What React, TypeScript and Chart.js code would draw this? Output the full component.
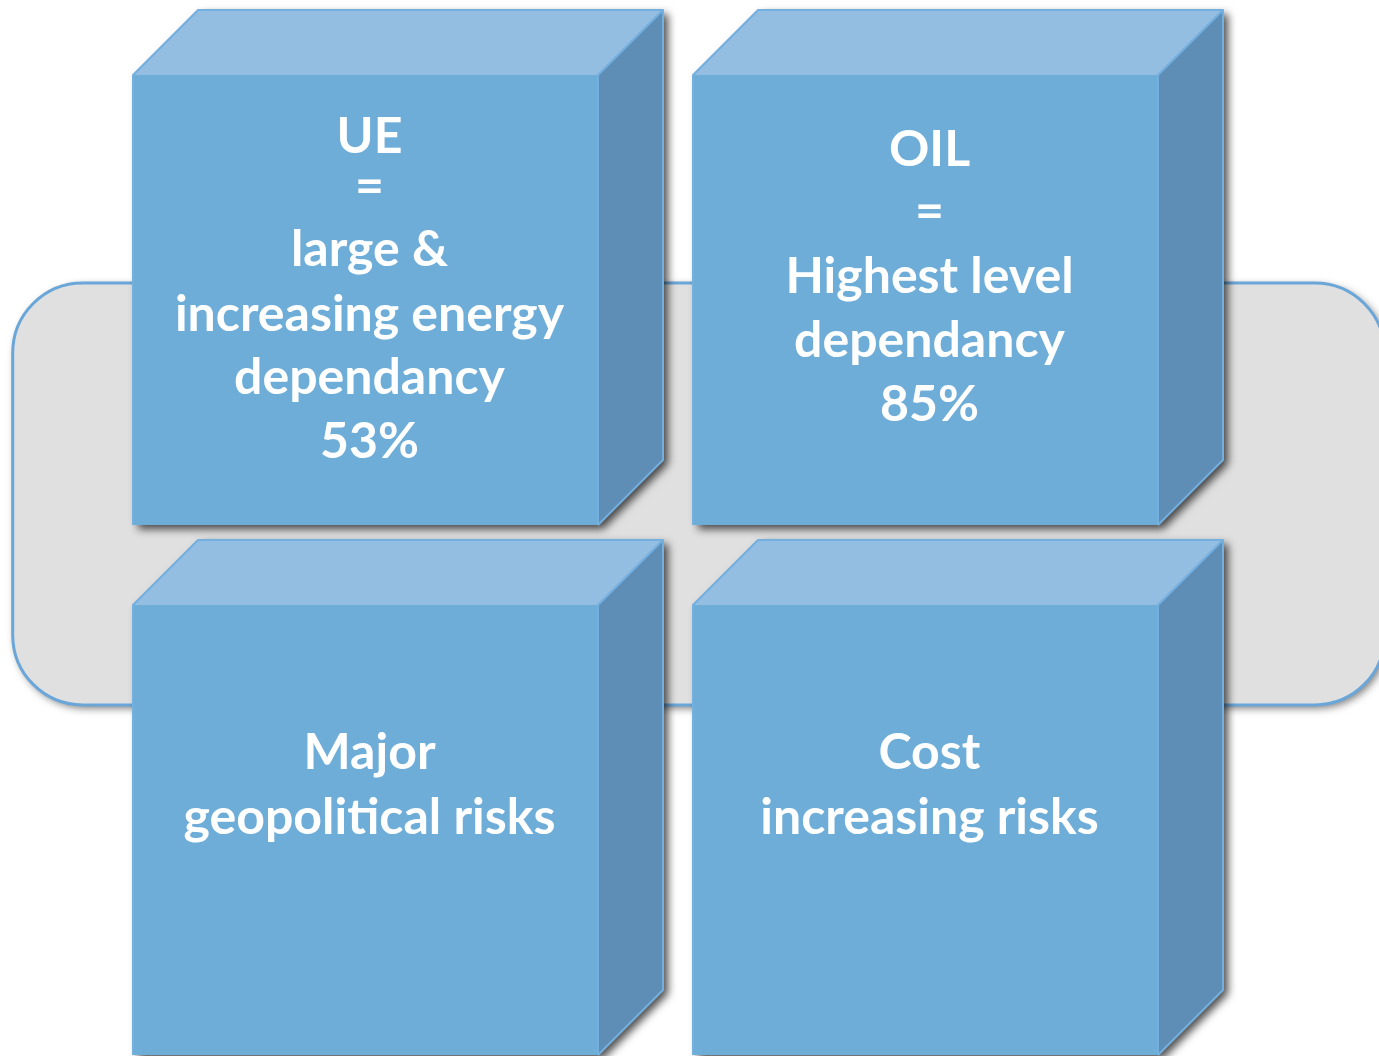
import React, { useEffect, useRef } from "react";
import { Chart, registerables } from "chart.js";

Chart.register(...registerables);

// ---- data ----
const boxColumns = [0, 1, 0, 1];
const boxRows = [0, 0, 1, 1];
const boxLabels: string[][] = [
  ["UE", "=", "large &", "increasing energy", "dependancy", "53%"],
  ["OIL", "=", "Highest level", "dependancy", "85%"],
  ["Major", "geopolitical risks"],
  ["Cost", "increasing risks"],
];

// ---- layout / style ----
const lineOffsets: number[][] = [
  [-163, -113, -50, 15, 78, 142],
  [-150, -88, -23, 41, 105],
  [-77, -12],
  [-77, -12],
];
const FRONT_W = 465;
const FRONT_H = 450;
const DEPTH = 65;
const COLORS = {
  front: "#6fadd9",
  top: "#93bde1",
  side: "#5e8db6",
  edge: "#74b0df",
  panel: "#e0e0e0",
  panelEdge: "#6aa6d8",
};

const diagramPlugin = {
  id: "cubeDiagram",
  beforeDatasetsDraw(chart: any) {
    const ctx = chart.ctx as CanvasRenderingContext2D;
    const xs = chart.scales.x;
    const ys = chart.scales.y;
    const px0 = xs.getPixelForValue(-0.63);
    const px1 = xs.getPixelForValue(1.82);
    const py0 = ys.getPixelForValue(-0.032);
    const py1 = ys.getPixelForValue(0.764);
    ctx.save();
    ctx.shadowColor = "rgba(0,0,0,0.55)";
    ctx.shadowBlur = 8;
    ctx.shadowOffsetX = 3;
    ctx.shadowOffsetY = 3;
    ctx.beginPath();
    (ctx as any).roundRect(px0, py0, px1 - px0, py1 - py0, 70);
    ctx.fillStyle = COLORS.panel;
    ctx.fill();
    ctx.shadowColor = "transparent";
    ctx.lineWidth = 3;
    ctx.strokeStyle = COLORS.panelEdge;
    ctx.stroke();
    ctx.restore();
  },
  afterDatasetsDraw(chart: any) {
    const ctx = chart.ctx as CanvasRenderingContext2D;
    const meta = chart.getDatasetMeta(0);
    meta.data.forEach((pt: any, i: number) => {
      const cx = pt.x;
      const cy = pt.y;
      const fx = cx - FRONT_W / 2;
      const fy = cy - FRONT_H / 2;
      const fr = fx + FRONT_W;
      const fb = fy + FRONT_H;
      ctx.save();
      ctx.beginPath();
      ctx.moveTo(fx, fb);
      ctx.lineTo(fx, fy);
      ctx.lineTo(fx + DEPTH, fy - DEPTH);
      ctx.lineTo(fr + DEPTH, fy - DEPTH);
      ctx.lineTo(fr + DEPTH, fb - DEPTH);
      ctx.lineTo(fr, fb);
      ctx.closePath();
      ctx.shadowColor = "rgba(0,0,0,0.7)";
      ctx.shadowBlur = 9;
      ctx.shadowOffsetX = 5;
      ctx.shadowOffsetY = 4;
      ctx.fillStyle = COLORS.front;
      ctx.fill();
      ctx.shadowColor = "transparent";
      ctx.shadowBlur = 0;
      ctx.shadowOffsetX = 0;
      ctx.shadowOffsetY = 0;
      ctx.fillStyle = COLORS.front;
      ctx.fillRect(fx, fy, FRONT_W, FRONT_H);
      ctx.beginPath();
      ctx.moveTo(fx, fy);
      ctx.lineTo(fx + DEPTH, fy - DEPTH);
      ctx.lineTo(fr + DEPTH, fy - DEPTH);
      ctx.lineTo(fr, fy);
      ctx.closePath();
      ctx.fillStyle = COLORS.top;
      ctx.fill();
      ctx.beginPath();
      ctx.moveTo(fr, fy);
      ctx.lineTo(fr + DEPTH, fy - DEPTH);
      ctx.lineTo(fr + DEPTH, fb - DEPTH);
      ctx.lineTo(fr, fb);
      ctx.closePath();
      ctx.fillStyle = COLORS.side;
      ctx.fill();
      ctx.lineWidth = 2;
      ctx.strokeStyle = COLORS.edge;
      ctx.lineJoin = "round";
      ctx.beginPath();
      ctx.moveTo(fx, fb);
      ctx.lineTo(fx, fy);
      ctx.lineTo(fx + DEPTH, fy - DEPTH);
      ctx.lineTo(fr + DEPTH, fy - DEPTH);
      ctx.lineTo(fr + DEPTH, fb - DEPTH);
      ctx.lineTo(fr, fb);
      ctx.moveTo(fr + DEPTH, fy - DEPTH);
      ctx.lineTo(fr, fy);
      ctx.lineTo(fr, fb);
      ctx.stroke();
      ctx.fillStyle = "#ffffff";
      ctx.font = "bold 50px Lato, 'Open Sans', sans-serif";
      ctx.textAlign = "center";
      ctx.textBaseline = "middle";
      const lines = boxLabels[i];
      const offs = lineOffsets[i];
      lines.forEach((line, k) => {
        ctx.fillText(line, cx + 4, cy + offs[k]);
      });
      ctx.restore();
    });
  },
};

export default function App() {
  const canvasRef = useRef<HTMLCanvasElement | null>(null);
  useEffect(() => {
    document.body.style.margin = "0";
    const canvas = canvasRef.current;
    if (!canvas) return;
    const chart = new Chart(canvas, {
      type: "scatter",
      data: {
        datasets: [
          {
            label: "boxes",
            data: boxColumns.map((c, i) => ({ x: c, y: boxRows[i] })),
            pointRadius: 0,
            pointHoverRadius: 0,
          },
        ],
      },
      options: {
        animation: false,
        responsive: false,
        maintainAspectRatio: false,
        layout: { padding: 0 },
        events: [],
        plugins: {
          legend: { display: false },
          tooltip: { enabled: false },
          title: { display: false },
        },
        scales: {
          x: {
            type: "linear",
            display: false,
            min: -365.5 / 560,
            max: (1379 - 365.5) / 560,
          },
          y: {
            type: "linear",
            display: false,
            reverse: true,
            min: -300 / 530,
            max: (1056 - 300) / 530,
          },
        },
      },
      plugins: [diagramPlugin],
    });
    return () => chart.destroy();
  }, []);
  return (
    <div style={{ position: "absolute", left: 0, top: 0, width: 1379, height: 1056 }}>
      <canvas ref={canvasRef} width={1379} height={1056} style={{ display: "block" }} />
    </div>
  );
}
